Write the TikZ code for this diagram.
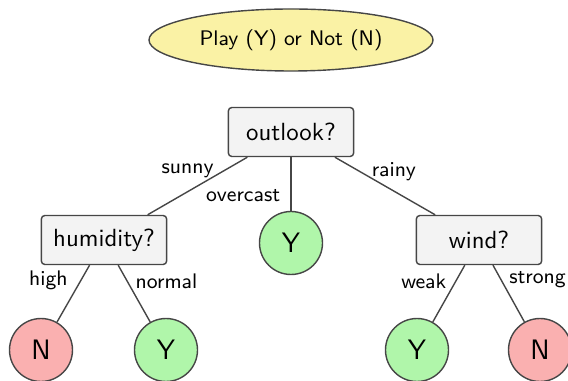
\documentclass[tikz,border=0pt]{standalone}
\usepackage{fontspec}
\usepackage{xcolor}
\usepackage{tikz}
\usetikzlibrary{positioning, shapes.geometric}

\definecolor{goalfill}{RGB}{250,242,165}
\definecolor{yesfill}{RGB}{176,246,170}
\definecolor{nofill}{RGB}{250,176,176}
\definecolor{boxfill}{RGB}{243,243,243}
\definecolor{linegray}{RGB}{70,70,70}

\begin{document}
\begin{tikzpicture}[x=0.015cm, y=-0.015cm, font=\sffamily, semithick,
    box/.style={draw=linegray, rectangle, rounded corners=1.5pt, fill=boxfill, minimum width=1.88cm, minimum height=0.735cm, inner sep=0pt, font=\sffamily\fontsize{10.6}{12}\selectfont},
    leaf/.style={draw=linegray, circle, minimum size=0.945cm, inner sep=0pt, font=\sffamily\large},
    yes/.style={leaf, fill=yesfill},
    no/.style={leaf, fill=nofill},
    link/.style={draw=linegray},
    lbl/.style={font=\sffamily\small}]
                \useasboundingbox (0,0) rectangle (568,381);
                \node [draw=linegray, ellipse, fill=goalfill, minimum width=4.26cm, minimum height=0.93cm, inner sep=0pt, font=\sffamily\small] (goal) at (291,40) {Play (Y) or Not (N)};
                \node [box] (outlook) at (291,132) {outlook?};
                \node [box] (humidity) at (104,240) {humidity?};
                \node [yes] (overcastY) at (291,243) {Y};
                \node [box] (wind) at (479,240) {wind?};
                \node [no] (highN) at (41,350) {N};
                \node [yes] (normalY) at (166,350) {Y};
                \node [yes] (weakY) at (417,350) {Y};
                \node [no] (strongN) at (540,350) {N};
                \draw [link] (outlook) -- node[lbl, pos=.23, left=1pt] {sunny} (humidity);
                \draw [link] (outlook) -- node[lbl, pos=.72, left=1pt] {overcast} (overcastY);
                \draw [link] (outlook) -- node[lbl, pos=.26, right=1pt] {rainy} (wind);
                \draw [link] (humidity) -- node[lbl, pos=.27, left=2pt] {high} (highN);
                \draw [link] (humidity) -- node[lbl, pos=.28, right=0pt] {normal} (normalY);
                \draw [link] (wind) -- node[lbl, pos=.28, left=0.5pt] {weak} (weakY);
                \draw [link] (wind) -- node[lbl, pos=.25, right=0pt] {strong} (strongN);
            \end{tikzpicture}
\end{document}
